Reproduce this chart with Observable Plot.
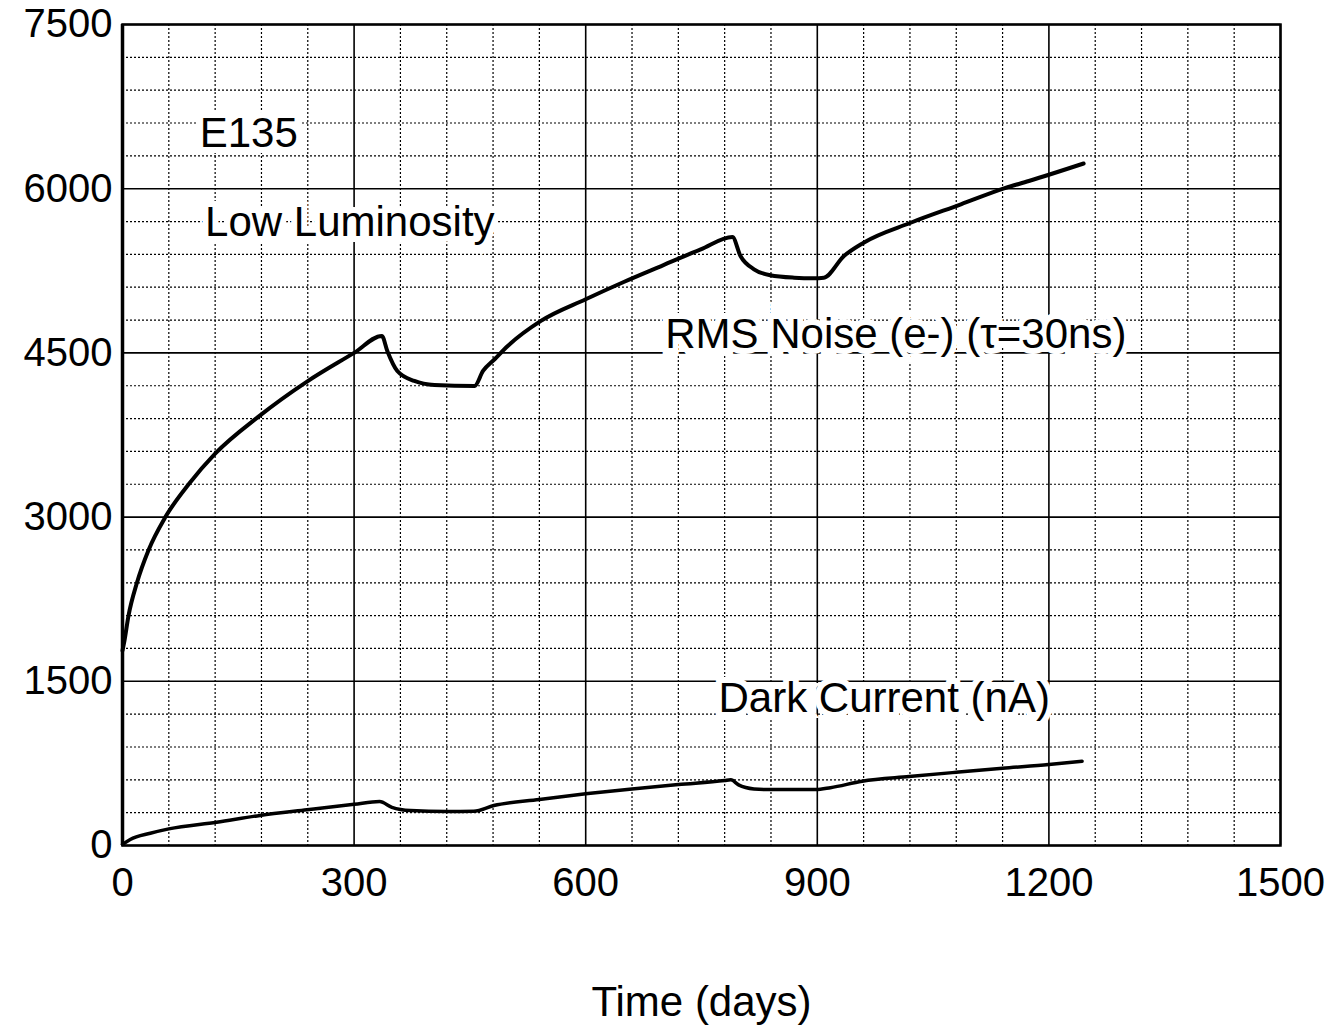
<!DOCTYPE html>
<html>
<head>
<meta charset="utf-8">
<script src="https://cdn.jsdelivr.net/npm/d3@7"></script>
<script src="https://cdn.jsdelivr.net/npm/@observablehq/plot@0.6"></script>
<style>
  html, body { margin: 0; padding: 0; background: white; }
</style>
</head>
<body>
<div id="chart"></div>
<script>
// RMS noise (e-) vs time (days)
const noiseDays = [0, 2, 7.8, 18.7, 33.8, 55.5, 85.7, 120, 176.6, 239.5, 300, 336,
  343, 356, 378, 404, 456, 467, 482, 499, 542, 600, 650, 700, 749, 790,
  800.5, 818, 839, 870, 895.5, 908.5, 934.5, 960, 1021, 1086, 1142, 1174, 1245];
const noiseValues = [1780, 1850, 2100, 2400, 2700, 3000, 3300, 3580, 3920, 4240, 4500, 4655,
  4518, 4335, 4244, 4207, 4198, 4335, 4442, 4563, 4792, 4990, 5150, 5300, 5446, 5559,
  5385, 5264, 5209, 5187, 5182, 5187, 5385, 5507, 5689, 5857, 6003, 6070, 6230];

// Dark current (nA) vs time (days)
const darkDays = [0, 10, 36, 60, 122, 178, 239, 300, 333, 349, 373, 420, 455, 481,
  540, 600, 660, 720, 780, 788, 798, 818, 840, 898, 917, 958, 1019, 1080, 1140, 1200, 1243];
const darkValues = [10, 55, 112, 152, 213, 274, 326, 376, 401, 349, 319, 310, 313, 365,
  420, 472, 517, 557, 593, 600, 554, 517, 511, 511, 528, 587, 630, 669, 706, 740, 770];

// Axes ticks
const xMajor = [0, 300, 600, 900, 1200, 1500];
const yMajor = [0, 1500, 3000, 4500, 6000, 7500];
const xMinor = [60,120,180,240,360,420,480,540,660,720,780,840,960,1020,1080,1140,1260,1320,1380,1440];
const yMinor = [300,600,900,1200,1800,2100,2400,2700,3300,3600,3900,4200,4800,5100,5400,5700,6300,6600,6900,7200];

// Annotations
const labelTexts = ["E135", "Low Luminosity", "RMS Noise (e-) (\u03C4=30ns)", "Dark Current (nA)"];
const labelX = [100, 107, 703, 772];
const labelY = [6500, 5690, 4670, 1340];

const noise = noiseDays.map((d, i) => ({day: d, value: noiseValues[i]}));
const dark = darkDays.map((d, i) => ({day: d, value: darkValues[i]}));
const labels = labelTexts.map((t, i) => ({text: t, x: labelX[i], y: labelY[i]}));

const fmt = v => String(v);

const chart = Plot.plot({
  width: 1332,
  height: 1028,
  marginLeft: 122,
  marginRight: 52,
  marginTop: 24,
  marginBottom: 183,
  style: {fontFamily: "'Liberation Sans', Arial, sans-serif", fontSize: "40px", background: "white", color: "black", overflow: "visible"},
  x: {domain: [0, 1500]},
  y: {domain: [0, 7500]},
  marks: [
    Plot.ruleX(xMinor, {stroke: "black", strokeWidth: 1.2, strokeDasharray: "2,2"}),
    Plot.ruleY(yMinor, {stroke: "black", strokeWidth: 1.2, strokeDasharray: "2,2"}),
    Plot.ruleX(xMajor, {stroke: "black", strokeWidth: 1.6}),
    Plot.ruleY(yMajor, {stroke: "black", strokeWidth: 1.6}),
    Plot.text(labels, {x: "x", y: "y", text: "text", textAnchor: "start", lineAnchor: "middle",
      fontSize: 42, fill: "black", stroke: "white", strokeWidth: 12, strokeLinejoin: "miter"}),
    Plot.line(noise, {x: "day", y: "value", stroke: "black", strokeWidth: 4, curve: "monotone-x"}),
    Plot.line(dark, {x: "day", y: "value", stroke: "black", strokeWidth: 3.5, curve: "monotone-x"}),
    Plot.frame({stroke: "black", strokeWidth: 2.5}),
    Plot.ruleX([0], {stroke: "black", strokeWidth: 3.5}),
    Plot.axisY({ticks: yMajor, tickFormat: fmt, tickSize: 0, tickPadding: 10, label: null, fontSize: 40}),
    Plot.axisX({ticks: xMajor, tickFormat: fmt, tickSize: 0, tickPadding: 22, label: null, fontSize: 40}),
    Plot.text(["Time (days)"], {frameAnchor: "bottom", dy: 157, fontSize: 42, lineAnchor: "middle", fill: "black"})
  ]
});
document.getElementById("chart").appendChild(chart);
</script>
</body>
</html>
